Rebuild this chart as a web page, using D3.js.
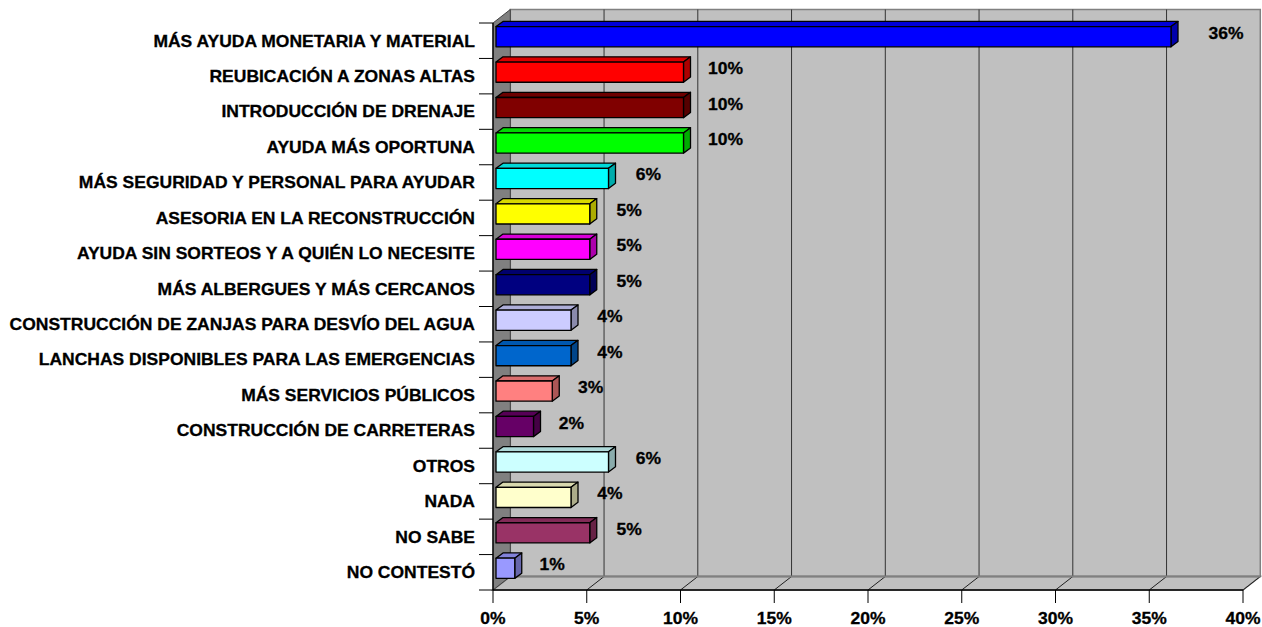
<!DOCTYPE html>
<html>
<head>
<meta charset="utf-8">
<script src="https://cdn.jsdelivr.net/npm/d3@7"></script>
<style>
  html, body { margin: 0; padding: 0; background: #ffffff; }
  svg { display: block; }
  text { font-family: "Liberation Sans", Arial, sans-serif; font-weight: bold; fill: #000;
         stroke: #000; stroke-width: 0.3px; }
</style>
</head>
<body>
<svg id="chart" width="1262" height="627"></svg>
<script>
// Responses (percent of respondents)
const categories = [
  "MÁS AYUDA MONETARIA Y MATERIAL",
  "REUBICACIÓN A ZONAS ALTAS",
  "INTRODUCCIÓN DE DRENAJE",
  "AYUDA MÁS OPORTUNA",
  "MÁS SEGURIDAD Y PERSONAL PARA AYUDAR",
  "ASESORIA EN LA RECONSTRUCCIÓN ",
  "AYUDA SIN SORTEOS Y A QUIÉN LO NECESITE",
  "MÁS ALBERGUES Y MÁS CERCANOS",
  "CONSTRUCCIÓN DE ZANJAS PARA DESVÍO DEL AGUA",
  "LANCHAS DISPONIBLES PARA LAS EMERGENCIAS",
  "MÁS SERVICIOS PÚBLICOS",
  "CONSTRUCCIÓN DE CARRETERAS",
  "OTROS",
  "NADA",
  "NO SABE",
  "NO CONTESTÓ"
];
const values = [36, 10, 10, 10, 6, 5, 5, 5, 4, 4, 3, 2, 6, 4, 5, 1];
const barColors = [
  "#0000ff", "#ff0000", "#800000", "#00ff00", "#00ffff", "#ffff00",
  "#ff00ff", "#000080", "#ccccff", "#0066cc", "#ff8080", "#660066",
  "#ccffff", "#ffffcc", "#993366", "#9999ff"
];
const tickValues = [0, 5, 10, 15, 20, 25, 30, 35, 40];

// Layout
const FONT = 16.5, SX = 1.06;           // text size and horizontal stretch
const plotL = 493, plotR = 1243, plotT = 23, plotB = 590;
const WD = [17.3, -13.5];               // wall depth offset (back plane)
const BD = [7, -5.2];                   // bar depth offset
const barInsetX = 3, barInsetY = 3.6, barH = 20.2;

const svg = d3.select("#chart");
const x = d3.scaleLinear().domain([0, 40]).range([plotL, plotR]);
const y = d3.scaleBand().domain(categories).range([plotT, plotB]).padding(0);

const poly = pts => pts.map(p => p.join(",")).join(" ");
function stretchedText(g, tx, ty, str, anchor, size) {
  return g.append("text")
    .attr("transform", `translate(${tx},${ty}) scale(${SX},1)`)
    .attr("text-anchor", anchor)
    .style("font-size", (size || FONT) + "px")
    .text(str);
}

// Walls and floor
const bx0 = plotL + WD[0], bx1 = plotR + WD[0];
const by0 = plotT + WD[1], by1 = plotB + WD[1];
svg.append("polygon") // back wall
  .attr("points", poly([[bx0, by0], [bx1, by0], [bx1, by1], [bx0, by1]]))
  .attr("fill", "#c0c0c0").attr("stroke", "#808080").attr("stroke-width", 1.5);
svg.append("polygon") // floor
  .attr("points", poly([[plotL, plotB], [bx0, by1], [bx1, by1], [plotR, plotB]]))
  .attr("fill", "#c0c0c0").attr("stroke", "#808080").attr("stroke-width", 1.5);
svg.append("polygon") // side wall
  .attr("points", poly([[plotL, plotT], [bx0, by0], [bx0, by1], [plotL, plotB]]))
  .attr("fill", "#808080").attr("stroke", "#404040").attr("stroke-width", 1);

// Gridlines on back wall and floor
const grid = svg.append("g");
tickValues.filter(v => v > 0 && v < 40).forEach(v => {
  grid.append("line")
    .attr("x1", x(v) + WD[0]).attr("x2", x(v) + WD[0])
    .attr("y1", by0).attr("y2", by1)
    .attr("stroke", "#333333").attr("stroke-width", 1);
});
tickValues.filter(v => v > 0).forEach(v => {
  grid.append("line")
    .attr("x1", x(v)).attr("y1", plotB)
    .attr("x2", x(v) + WD[0]).attr("y2", by1)
    .attr("stroke", "#202020").attr("stroke-width", 1);
});
grid.append("line")
  .attr("x1", bx0).attr("x2", bx1).attr("y1", by1).attr("y2", by1)
  .attr("stroke", "#808080").attr("stroke-width", 2);

// 3D bars
const bars = svg.append("g");
categories.forEach((c, i) => {
  const v = values[i];
  const col = d3.color(barColors[i]);
  const x0 = x(0) + barInsetX, x1 = x(v) + barInsetX;
  const y0 = y(c) + barInsetY, y1 = y0 + barH;
  const g = bars.append("g").attr("stroke", "#000").attr("stroke-width", 1.3)
    .attr("stroke-linejoin", "round");
  g.append("polygon") // top face
    .attr("points", poly([[x0, y0], [x0 + BD[0], y0 + BD[1]], [x1 + BD[0], y0 + BD[1]], [x1, y0]]))
    .attr("fill", col.darker(0.45));
  g.append("polygon") // end face
    .attr("points", poly([[x1, y0], [x1 + BD[0], y0 + BD[1]], [x1 + BD[0], y1 + BD[1]], [x1, y1]]))
    .attr("fill", col.darker(1.1));
  g.append("rect") // front face
    .attr("x", x0).attr("y", y0).attr("width", x1 - x0).attr("height", barH)
    .attr("fill", col);
});

// Category axis
const cat = svg.append("g");
cat.append("line").attr("x1", plotL).attr("x2", plotL).attr("y1", plotT).attr("y2", plotB)
  .attr("stroke", "#000").attr("stroke-width", 1.3);
categories.concat([null]).forEach(c => {
  const yy = c === null ? plotB : y(c);
  cat.append("line").attr("x1", plotL - 14).attr("x2", plotL).attr("y1", yy).attr("y2", yy)
    .attr("stroke", "#000").attr("stroke-width", 1);
});
categories.forEach(c => {
  stretchedText(cat, 475, y(c) + y.bandwidth() / 2 + 5.8, c, "end");
});

// Value axis
const val = svg.append("g");
val.append("line").attr("x1", plotL).attr("x2", plotR).attr("y1", plotB).attr("y2", plotB)
  .attr("stroke", "#000").attr("stroke-width", 1.5);
tickValues.forEach(v => {
  val.append("line").attr("x1", x(v)).attr("x2", x(v)).attr("y1", plotB).attr("y2", plotB + 13)
    .attr("stroke", "#000").attr("stroke-width", 1);
  stretchedText(val, x(v), 624, v + "%", "middle");
});

// Data labels
const labels = svg.append("g");
categories.forEach((c, i) => {
  const v = values[i];
  const cy = y(c) + y.bandwidth() / 2 - 8;
  stretchedText(labels, x(v) + 40 + v * 0.5, cy + 6, v + "%", "middle");
});
</script>
</body>
</html>
